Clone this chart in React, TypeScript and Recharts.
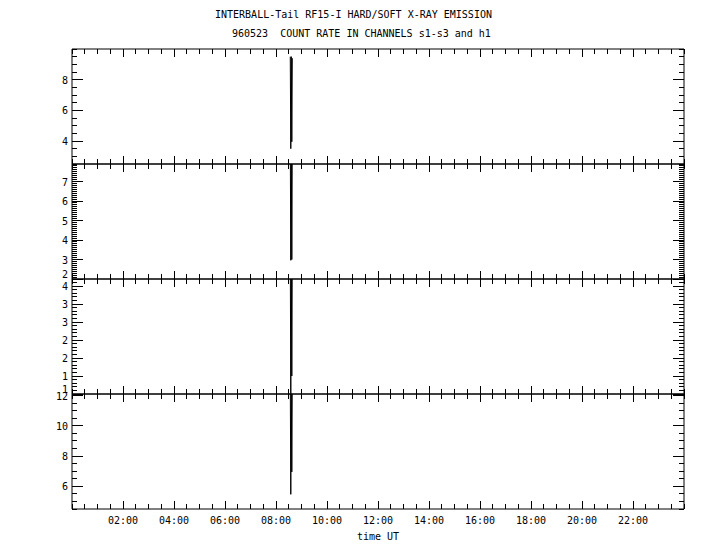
import React from "react";
import { LineChart, Line, XAxis, YAxis } from "recharts";

// sample times (hours UT) of the short burst near 08:36
const hours = [8.56, 8.58, 8.6, 8.62, 8.64];

// count rates for each channel at those times
const s1 = [9.5, 3.5, 9.5, 3.95, 9.4];
const s2 = [9.0, 2.96, 9.0, 3.0, 9.0];
const s3 = [5.0, 0.8, 5.0, 1.5, 5.0];
const h1 = [13.0, 5.47, 13.0, 6.95, 13.0];

// labelled y ticks per panel
const s1Ticks = [4, 6, 8];
const s1Labels = ["4", "6", "8"];
const s2Ticks = [2, 3, 4, 5, 6, 7];
const s2Labels = ["2", "3", "4", "5", "6", "7"];
const s3Ticks = [1, 1.5, 2, 2.5, 3, 3.5, 4];
const s3Labels = ["1", "1", "2", "2", "3", "3", "4"];
const h1Ticks = [6, 8, 10, 12];
const h1Labels = ["6", "8", "10", "12"];

// labelled time ticks
const timeTicks = [2, 4, 6, 8, 10, 12, 14, 16, 18, 20, 22];
const timeLabels = [
  "02:00", "04:00", "06:00", "08:00", "10:00", "12:00",
  "14:00", "16:00", "18:00", "20:00", "22:00",
];

const INK = "#000";
const FONT = "'DejaVu Sans Mono', monospace";
const PANEL_H = 115;
const PANEL_TOPS = [49, 164, 279, 394];

// tick positions for minor marks
function steps(lo: number, hi: number, step: number) {
  const n = Math.round((hi - lo) / step);
  const out: number[] = [];
  for (let i = 0; i <= n; i++) out.push(Math.round((lo + i * step) * 1000) / 1000);
  return out;
}

function find(list: number[], v: number) {
  return list.findIndex((m) => Math.abs(m - v) < 1e-6);
}

const timeMinor = steps(0, 24, 0.5);

const panels = [
  { values: s1, domain: [2.5, 10], minor: 0.5, majors: s1Ticks, labels: s1Labels },
  { values: s2, domain: [2, 7.9], minor: 0.1, majors: s2Ticks, labels: s2Labels },
  { values: s3, domain: [1, 4.2], minor: 0.1, majors: s3Ticks, labels: s3Labels },
  { values: h1, domain: [4.5, 12.1], minor: 0.5, majors: h1Ticks, labels: h1Labels },
];

const leftTick = (majors: number[], labels: string[], min: number) => (p: any) => {
  const v = p.payload.value;
  const i = find(majors, v);
  const len = i >= 0 ? 11 : 5;
  const dy = Math.abs(v - min) < 1e-6 ? -5 : 0;
  return (
    <g>
      <line x1={p.x} x2={p.x + len} y1={p.y} y2={p.y} stroke={INK} shapeRendering="crispEdges" />
      {i >= 0 && (
        <text x={p.x - 4} y={p.y + 4 + dy} textAnchor="end" fontSize={10} fontFamily={FONT} fill={INK}>
          {labels[i]}
        </text>
      )}
    </g>
  );
};

const rightTick = (majors: number[]) => (p: any) => {
  const len = find(majors, p.payload.value) >= 0 ? 11 : 5;
  return <line x1={p.x - len} x2={p.x} y1={p.y} y2={p.y} stroke={INK} shapeRendering="crispEdges" />;
};

const bottomTick = (withLabels: boolean) => (p: any) => {
  const i = find(timeTicks, p.payload.value);
  const len = i >= 0 ? 8 : 5;
  return (
    <g>
      <line x1={p.x} x2={p.x} y1={p.y} y2={p.y - len} stroke={INK} shapeRendering="crispEdges" />
      {withLabels && i >= 0 && (
        <text x={p.x} y={p.y + 15} textAnchor="middle" fontSize={10} fontFamily={FONT} fill={INK}>
          {timeLabels[i]}
        </text>
      )}
    </g>
  );
};

const topTick = (p: any) => {
  const len = find(timeTicks, p.payload.value) >= 0 ? 8 : 5;
  return <line x1={p.x} x2={p.x} y1={p.y} y2={p.y + len} stroke={INK} shapeRendering="crispEdges" />;
};

function Panel({ idx }: { idx: number }) {
  const cfg = panels[idx];
  const last = idx === panels.length - 1;
  const data = hours.map((t, i) => ({ t, v: cfg.values[i] }));
  const yTicks = steps(cfg.domain[0], cfg.domain[1], cfg.minor).filter((v) => v <= cfg.domain[1]);
  const bottomH = last ? 41 : 10;
  return (
    <div style={{ position: "absolute", left: 0, top: PANEL_TOPS[idx] - 10 }}>
      <LineChart
        width={720}
        height={10 + PANEL_H + bottomH}
        data={data}
        margin={{ top: 0, right: 0, bottom: 0, left: 0 }}
      >
        <XAxis
          xAxisId="b"
          dataKey="t"
          type="number"
          domain={[0, 24]}
          allowDataOverflow
          ticks={timeMinor}
          interval={0}
          height={bottomH}
          tickSize={0}
          tickMargin={0}
          axisLine={{ stroke: INK }}
          tick={bottomTick(last)}
          label={
            last
              ? { value: "time UT", position: "insideBottom", offset: 10, fill: INK, fontSize: 10, fontFamily: FONT }
              : undefined
          }
        />
        <XAxis
          xAxisId="t"
          dataKey="t"
          type="number"
          orientation="top"
          domain={[0, 24]}
          allowDataOverflow
          ticks={timeMinor}
          interval={0}
          height={10}
          tickSize={0}
          tickMargin={0}
          axisLine={{ stroke: INK }}
          tick={topTick}
        />
        <YAxis
          yAxisId="l"
          type="number"
          domain={cfg.domain}
          allowDataOverflow
          ticks={yTicks}
          interval={0}
          width={72}
          tickSize={0}
          tickMargin={0}
          axisLine={{ stroke: INK }}
          tick={leftTick(cfg.majors, cfg.labels, cfg.domain[0])}
        />
        <YAxis
          yAxisId="r"
          type="number"
          orientation="right"
          domain={cfg.domain}
          allowDataOverflow
          ticks={yTicks}
          interval={0}
          width={36}
          tickSize={0}
          tickMargin={0}
          axisLine={{ stroke: INK }}
          tick={rightTick(cfg.majors)}
        />
        <Line
          xAxisId="b"
          yAxisId="l"
          dataKey="v"
          type="linear"
          stroke={INK}
          strokeWidth={1}
          dot={false}
          isAnimationActive={false}
        />
        <Line
          xAxisId="t"
          yAxisId="r"
          dataKey="v"
          stroke="none"
          dot={false}
          isAnimationActive={false}
        />
      </LineChart>
    </div>
  );
}

export default function App() {
  const textStyle: React.CSSProperties = {
    position: "absolute",
    fontFamily: FONT,
    fontSize: 10,
    whiteSpace: "pre",
    color: INK,
    lineHeight: "12px",
  };
  return (
    <div style={{ position: "absolute", left: 0, top: 0, width: 720, height: 550, background: "#fff" }}>
      <div style={{ ...textStyle, left: 215, top: 9 }}>INTERBALL-Tail RF15-I HARD/SOFT X-RAY EMISSION</div>
      <div style={{ ...textStyle, left: 232, top: 28 }}>960523  COUNT RATE IN CHANNELS s1-s3 and h1</div>
      {panels.map((_, i) => (
        <Panel key={i} idx={i} />
      ))}
    </div>
  );
}
